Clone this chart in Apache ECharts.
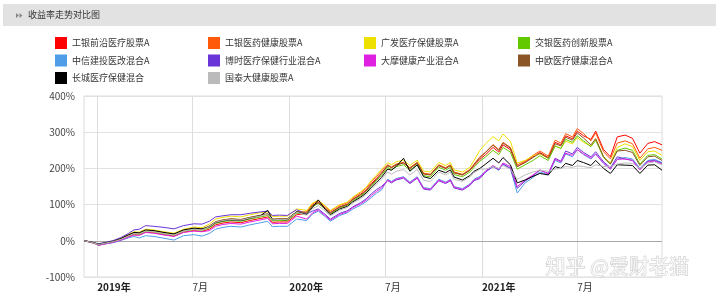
<!DOCTYPE html>
<html><head><meta charset="utf-8">
<script src="https://cdn.jsdelivr.net/npm/echarts@6/dist/echarts.min.js"></script>
<style>html,body{margin:0;padding:0;background:#fff}#c{width:720px;height:299px}</style>
</head><body><div id="c"></div>
<script>
const dates = ['2018-12-07','2018-12-21','2019-01-04','2019-01-18','2019-02-01','2019-02-15','2019-03-01','2019-03-12','2019-03-22','2019-04-03','2019-04-19','2019-05-08','2019-05-27','2019-06-14','2019-07-04','2019-07-19',
'2019-08-02','2019-08-14','2019-08-28','2019-09-12','2019-10-01','2019-10-18','2019-11-08','2019-11-21','2019-11-30','2019-12-13','2019-12-28','2020-01-15',
'2020-02-03','2020-02-14','2020-02-25','2020-03-09','2020-03-19','2020-04-06','2020-04-20','2020-05-01','2020-05-15','2020-05-26','2020-06-05','2020-06-15','2020-06-24',
'2020-07-06','2020-07-13','2020-07-22','2020-08-05','2020-08-17','2020-08-31','2020-09-12','2020-09-25','2020-10-11','2020-10-24','2020-11-02','2020-11-09','2020-11-25','2020-12-09','2020-12-17','2020-12-28',
'2021-01-08','2021-01-22','2021-02-02','2021-02-10','2021-02-24','2021-03-09','2021-03-24','2021-04-08','2021-04-21','2021-05-07','2021-05-20','2021-05-31','2021-06-09','2021-06-22','2021-07-01','2021-07-13','2021-07-27','2021-08-05','2021-08-20','2021-09-02','2021-09-15','2021-09-30','2021-10-14','2021-10-28','2021-11-12','2021-11-25','2021-12-09'];

const names = ['工银前沿医疗股票A','工银医药健康股票A','广发医疗保健股票A','交银医药创新股票A','中信建投医改混合A','博时医疗保健行业混合A','大摩健康产业混合A','中欧医疗健康混合A','长城医疗保健混合','国泰大健康股票A'];
const colors = ['#ff0000','#ff5a0a','#eee000','#62c800','#4f9de8','#6a35d8','#e020e0','#8b5525','#000000','#bbbbbb'];

const gyqy = [0,-3,-12,-8,-4,2,11,17,16,24,22,17,13,24,28,26,
32,44,49,52,50,56,62,66,51,52,52,72,
76,98,106,91,78,94,101,115,128,140,158,173,187,
208,202,210,215,200,215,185,182,208,200,208,188,182,195,208,225,
238,258,245,265,252,205,218,232,244,230,272,265,290,282,303,290,280,303,252,232,287,292,283,242,269,274,265];
const gyyy = [0,-4,-10,-6,-2,5,14,21,20,28,26,21,17,28,33,31,
40,52,57,60,58,64,70,74,59,60,60,80,
80,102,110,95,82,98,105,119,132,145,163,178,193,
210,204,212,217,202,217,187,184,210,202,210,190,184,197,212,232,
245,266,252,272,258,210,220,236,248,234,278,270,296,287,310,296,276,298,246,226,270,276,268,228,254,258,250];
const gfyl = [0,-5,-9,-5,0,7,17,25,24,32,30,25,21,32,38,36,
46,60,65,68,66,72,78,80,67,68,68,88,
84,104,112,97,84,100,107,121,135,148,167,182,197,
216,210,218,223,208,223,193,190,216,208,216,196,190,203,222,250,
268,288,276,295,275,215,222,235,240,228,262,255,275,268,285,272,262,282,232,215,258,268,260,222,246,248,236];
const jyyy = [0,-4,-11,-7,-3,4,13,19,18,26,24,19,15,26,31,29,
36,48,53,56,54,60,66,70,55,56,56,76,
74,95,103,88,75,91,98,111,123,136,152,167,181,
203,197,205,210,195,210,180,177,203,195,203,183,177,190,203,220,
232,250,238,258,245,198,210,222,235,222,262,255,280,272,290,276,260,278,230,212,250,256,250,212,236,238,226];
const zxjt = [0,-3,-12,-8,-5,1,8,12,8,14,12,7,2,14,17,13,
20,32,37,40,38,44,50,54,39,40,40,60,
56,74,82,67,54,70,77,88,98,108,120,132,140,
170,164,172,177,162,177,147,144,170,162,170,150,144,157,170,178,
192,205,195,212,200,132,160,175,190,182,222,215,240,232,252,238,226,240,214,198,226,230,226,200,222,225,216];
const bsyl = [0,-5,-8,-4,1,9,20,30,32,42,40,37,33,42,47,46,
54,66,69,72,72,76,80,82,70,71,70,86,
74,82,88,73,60,76,83,94,105,116,130,142,150,
166,160,168,173,158,173,143,140,166,158,166,146,140,153,166,172,
190,205,196,212,200,145,165,180,195,186,228,220,248,240,258,244,232,246,218,202,232,226,222,198,220,222,214];
const dmjk = [0,-4,-12,-8,-4,2,10,16,15,23,21,16,12,23,27,25,
28,40,45,48,46,52,58,62,47,48,48,68,
60,77,85,70,57,73,80,92,102,112,125,137,145,
168,162,170,175,160,175,145,142,168,160,168,148,142,155,168,175,
193,208,198,215,205,150,168,182,196,185,225,218,242,236,252,240,228,240,214,198,225,226,222,196,218,220,212];
const zoyl = [0,-4,-10,-6,-2,5,15,22,21,29,27,22,18,29,34,32,
41,53,58,61,59,65,71,75,60,61,61,81,
77,97,105,90,77,93,100,114,126,138,155,170,185,
208,202,210,215,200,215,185,182,208,200,208,188,182,195,210,230,
244,264,250,270,256,205,216,230,242,228,268,262,286,278,298,284,265,282,232,212,248,250,244,208,232,234,222];
const ccyl = [0,-3,-9,-5,-1,6,16,23,22,30,28,23,19,30,35,33,
38,50,55,58,56,62,70,84,58,59,58,80,
72,92,113,87,72,88,95,108,120,132,148,162,175,
198,195,205,228,192,210,177,172,195,188,196,176,168,180,192,200,
212,228,215,230,210,160,168,178,186,182,205,200,214,208,222,216,208,222,200,186,210,209,208,186,209,210,195];
const gtdj = [0,-4,-10,-6,-2,4,13,20,19,27,25,20,16,27,32,30,
39,51,56,59,57,63,69,73,58,59,59,79,
71,89,97,82,69,85,92,105,116,128,143,157,170,
190,184,192,197,182,197,167,164,190,182,190,170,164,177,188,198,
198,205,200,208,198,170,182,190,195,192,198,200,205,203,207,205,202,210,205,205,212,215,214,200,215,218,210];

const xTicks = ['2019-01-01','2019-07-01','2020-01-01','2020-07-01','2021-01-01','2021-07-01'];
const xMin = '2018-12-07', xMax = '2021-12-09';
const yTicks = [-100,0,100,200,300,400];

const ts = s => { const p = s.split('-').map(Number); return Date.UTC(p[0], p[1]-1, p[2]); };
const allValues = [gyqy,gyyy,gfyl,jyyy,zxjt,bsyl,dmjk,zoyl,ccyl,gtdj];
const FONT = '"Noto Sans CJK SC","Noto Sans",sans-serif';

const series = allValues.map((vals,i)=>{
  const s = {
    name: names[i], type:'line', showSymbol:false, symbol:'none',
    data: dates.map((d,k)=>[ts(d), vals[k]]),
    lineStyle:{width:1, color:colors[i]}, itemStyle:{color:colors[i]},
    emphasis:{disabled:true}, silent:true, z: 3
  };
  if(i===0){
    s.markLine = {silent:true, symbol:'none', label:{show:false},
      lineStyle:{color:'#a8a8a8', width:1, type:'solid'}, data:[{yAxis:0}], z:1};
  }
  return s;
});

const legendCols = [[0,4,8],[1,5,9],[2,6],[3,7]];
const legendLeft = [55,208,364,518];
const legends = legendCols.map((col,ci)=>({
  orient:'vertical', left:legendLeft[ci], top:37, padding:0, itemGap:5.5,
  itemWidth:12, itemHeight:12, icon:'rect', selectedMode:false,
  textStyle:{fontSize:9, color:'#333', fontFamily:FONT},
  data: col.map(k=>names[k])
}));

const tickVals = xTicks.map(ts);
const chart = echarts.init(document.getElementById('c'), null, {renderer:'canvas'});
chart.setOption({
  animation:false,
  color: colors,
  legend: legends,
  grid:{left:84, right:58, top:96, bottom:22, show:true, borderColor:'#dcdcdc', borderWidth:1},
  xAxis:{
    type:'value', min:ts(xMin), max:ts(xMax), scale:true,
    axisLine:{show:false},
    axisTick:{show:false, customValues: tickVals},
    splitLine:{show:true, lineStyle:{color:'#dedede', width:1}},
    axisLabel:{
      customValues: tickVals, align:'left', margin:5, fontSize:10, color:'#333', fontFamily:FONT,
      showMinLabel:true, showMaxLabel:true,
      formatter:function(v){ const d=new Date(v); const m=d.getUTCMonth(); return m===0 ? '{b|'+d.getUTCFullYear()+'年}' : (m+1)+'月'; },
      rich:{b:{fontWeight:'bold', fontSize:10, color:'#222', fontFamily:FONT}}
    }
  },
  yAxis:{
    type:'value', min:yTicks[0], max:yTicks[yTicks.length-1], interval:100,
    axisLine:{show:false}, axisTick:{show:false},
    splitLine:{show:true, lineStyle:{color:'#e2e2e2', width:1}},
    axisLabel:{formatter:'{value}%', fontSize:10, color:'#444', margin:9, fontFamily:FONT}
  },
  graphic:[
    {type:'rect', left:3, top:4, shape:{width:713, height:22}, style:{fill:'#e2e2e2'}, silent:true},
    {type:'polygon', shape:{points:[[16,13],[19,15.5],[16,18]]}, style:{fill:'#888'}, silent:true},
    {type:'polygon', shape:{points:[[19.5,13],[22.5,15.5],[19.5,18]]}, style:{fill:'#888'}, silent:true},
    {type:'text', left:28, top:10, style:{text:'收益率走势对比图', fontSize:9, fill:'#333', fontFamily:FONT}, silent:true},
    {type:'text', left:545, top:256, z:100, style:{text:'知乎 @爱财老猫', fontSize:20, fill:'rgba(255,255,255,0.8)', stroke:'#cacaca', lineWidth:1, fontFamily:FONT}, silent:true}
  ],
  series: series
});
</script>
</body></html>
